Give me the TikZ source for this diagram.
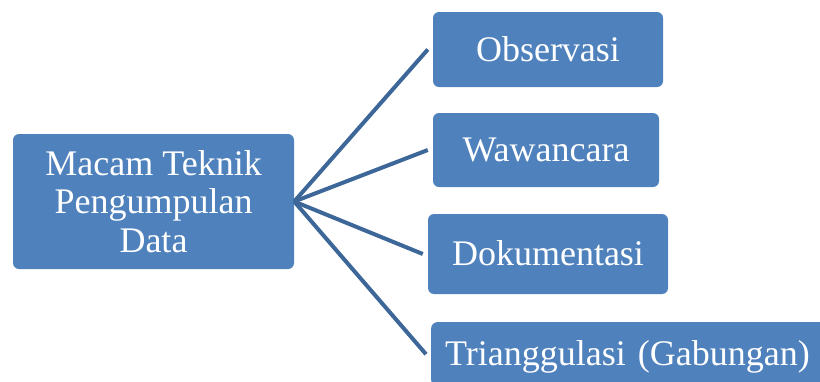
\documentclass[tikz,border=0pt]{standalone}
\usepackage{fontspec}
\setmainfont{Liberation Serif}
\definecolor{boxblue}{RGB}{79,129,189}
\definecolor{lineblue}{RGB}{60,103,152}
\begin{document}
\begin{tikzpicture}[x=1pt,y=-1pt,
	box/.style={fill=boxblue,rounded corners=6pt,text=white,font=\fontsize{36}{38.5}\selectfont,inner xsep=14pt,inner ysep=0pt},
	leaf/.style={box,text height=25pt,text depth=2pt},
	link/.style={draw=lineblue,line width=4pt}]
		\useasboundingbox (0,0) rectangle (820,381);
		\clip (0,0) rectangle (820,381);
		\node[box,align=center,minimum width=281pt,minimum height=135pt] (teknik) at (153.5,201.5) {Macam Teknik\\Pengumpulan\\Data};
		\node[leaf,minimum width=230pt,minimum height=75pt] (obs) at (548,49.5) {Observasi};
		\node[leaf,minimum width=226pt,minimum height=74pt] (waw) at (546,150) {Wawancara};
		\node[leaf,minimum width=240pt,minimum height=80pt] (dok) at (548,254) {Dokumentasi};
		\node[leaf,anchor=north west,text width=392pt,align=left,minimum height=64pt] (tri) at (431,322) {Trianggulasi (Gabungan)};
		\foreach \n in {obs,waw,dok,tri}
			\draw[link] (teknik.east) -- ([xshift=-5pt]\n.west);
\end{tikzpicture}
\end{document}
